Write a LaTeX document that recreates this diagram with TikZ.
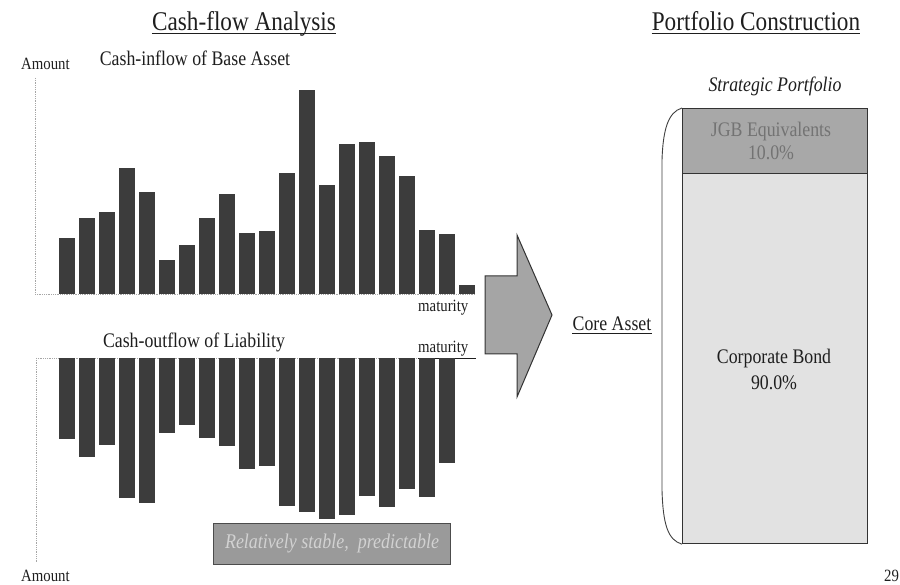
\documentclass[tikz,border=0pt]{standalone}
\usepackage{fontspec}
\setmainfont{Liberation Serif}[FakeStretch=0.86]
\definecolor{barc}{HTML}{3C3C3C}
\definecolor{arrc}{HTML}{A5A5A5}
\definecolor{jgbc}{HTML}{A8A8A8}
\definecolor{corpc}{HTML}{E2E2E2}
\definecolor{relc}{HTML}{9A9A9A}
\definecolor{inkc}{HTML}{1E1E1E}
\begin{document}
\begin{tikzpicture}[x=1pt,y=-1pt,
  txt/.style={inner sep=0pt, text=inkc, font=\fontsize{20.7}{23}\selectfont},
  ttl/.style={inner sep=0pt, text=inkc, font=\fontsize{27}{30}\selectfont},
  sml/.style={inner sep=0pt, text=inkc, font=\fontsize{17.2}{19}\selectfont},
  axisline/.style={draw=gray!70, densely dotted, line width=0.8pt},
  uline/.style={draw=inkc, line width=0.8pt},
  partbox/.style={draw=black!80, line width=1.2pt, minimum width=185pt, inner sep=0pt, anchor=north west},
]
\useasboundingbox (0,0) rectangle (900,585);
\fill[white] (0,0) rectangle (900,585);

% axes
\draw[axisline] (35,78) -- (35,294);
\draw[axisline] (35,294) -- (475,294);
\draw[axisline] (36,358) -- (418,358);
\draw[uline] (418,358) -- (476,358);
\draw[axisline] (36,358) -- (36,562);

% inflow bars
\foreach \t [count=\i from 0] in {238,218,212,168,192,260,245,218,194,233,231,173,90,185,144,142,156,176,230,234,285}
  \fill[barc] ({59+20*\i},\t) rectangle ({74.5+20*\i},294);
% outflow bars
\foreach \b [count=\i from 0] in {439,457,445,498,503,433,425,438,446,469,466,506,512,519,515,496,507,489,497,463}
  \fill[barc] ({59+20*\i},358) rectangle ({74.5+20*\i},\b);

% titles and labels
\node[ttl, anchor=base] (cfa) at (244,31) {Cash-flow Analysis};
\draw[uline] ([yshift=-2.5pt]cfa.base west) -- ([yshift=-2.5pt]cfa.base east);
\node[ttl, anchor=base] (pc) at (756,31) {Portfolio Construction};
\draw[uline] ([yshift=-2.5pt]pc.base west) -- ([yshift=-2.5pt]pc.base east);
\node[sml, anchor=base west] (amt1) at (21,70) {Amount};
\node[txt, anchor=base] (inflow) at (195,66) {Cash-inflow of Base Asset};
\node[sml, anchor=base west] (mat1) at (418,312) {maturity};
\node[txt, anchor=base] (outflow) at (194,348) {Cash-outflow of Liability};
\node[sml, anchor=base west] (mat2) at (418,353) {maturity};
\node[sml, anchor=base west] (amt2) at (21,581) {Amount};
\node[sml, anchor=base west] (pg) at (884,581) {29};

% stable box
\node[draw=black!70, line width=1pt, fill=relc, minimum width=237pt, minimum height=41pt,
      inner sep=0pt, anchor=north west, text=gray!35,
      font=\fontsize{20.9}{23}\selectfont\itshape] (rel) at (213,523) {Relatively stable,\ \ predictable};

% arrow
\draw[fill=arrc, draw=black!80, line width=1pt, line join=miter]
  (485,276) -- (517,276) -- (517,235) -- (552,315) -- (517,397) -- (517,354) -- (485,354) -- cycle;

\node[txt, anchor=base] (core) at (612,331) {Core Asset};
\draw[uline] ([yshift=-2.5pt]core.base west) -- ([yshift=-2.5pt]core.base east);

% portfolio
\node[txt, anchor=base, font=\fontsize{20.7}{23}\selectfont\itshape] (sp) at (775,92) {Strategic Portfolio};
\node[partbox, fill=jgbc, minimum height=65pt] (jgb) at (682,108) {};
\node[partbox, fill=corpc, minimum height=370pt] (corp) at (682,173) {};
\node[txt, anchor=base, text=black!55] (jgbt) at (771,137) {JGB Equivalents};
\node[txt, anchor=base, text=black!55] (jgbp) at (771,160) {10.0\%};
\node[txt, anchor=base] (cbt) at (774,363) {Corporate Bond};
\node[txt, anchor=base] (cbp) at (774,389) {90.0\%};

% bracket
\draw[black!75, line width=0.9pt] (jgb.north west) .. controls (668,112) and (663,130) .. (662,160)
  -- (662,490) .. controls (663,525) and (668,540) .. (corp.south west);
\end{tikzpicture}
\end{document}
